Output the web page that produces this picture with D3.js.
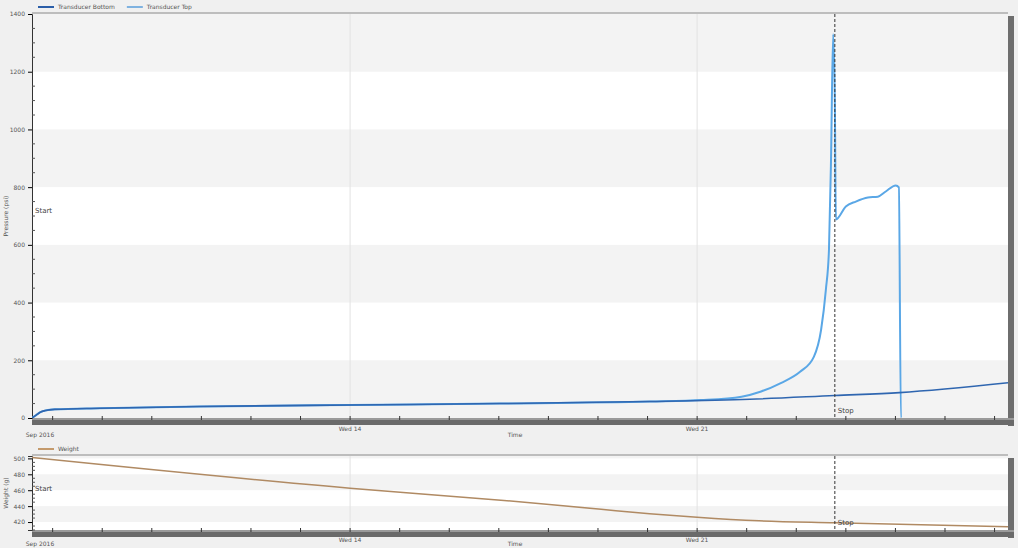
<!DOCTYPE html>
<html><head><meta charset="utf-8">
<script src="https://cdn.jsdelivr.net/npm/d3@7"></script>
<style>body{margin:0;background:#f0f0f0;font-family:"DejaVu Sans",sans-serif}</style>
</head><body><svg id="c" width="1018" height="548"></svg>
<script>
// ---- data ----
const bottomTimes = ["2016-09-07T14:00","2016-09-07T16:00","2016-09-07T18:00","2016-09-07T20:30","2016-09-08T01:00","2016-09-08T23:00","2016-09-10T23:00","2016-09-14T00:00","2016-09-17T00:30","2016-09-20T01:00","2016-09-22T01:30","2016-09-23T18:30","2016-09-25T02:00","2016-09-27T06:30"];
const bottomValues = [0,10,20,26,30,34,40,45,50,57,65,78,88,122];
const topTimes = ["2016-09-07T14:00","2016-09-07T16:00","2016-09-07T18:00","2016-09-07T20:30","2016-09-08T01:00","2016-09-08T23:00","2016-09-10T23:00","2016-09-14T00:00","2016-09-17T00:30","2016-09-20T01:00","2016-09-21T02:00","2016-09-21T21:30","2016-09-22T07:00","2016-09-22T16:30","2016-09-23T01:50","2016-09-23T08:30","2016-09-23T12:00","2016-09-23T14:20","2016-09-23T15:50","2016-09-23T16:50","2016-09-23T17:50","2016-09-23T18:40","2016-09-23T19:10","2016-09-24T00:00","2016-09-24T04:50","2016-09-24T10:40","2016-09-24T15:30","2016-09-24T19:20","2016-09-25T00:10","2016-09-25T01:40","2016-09-25T02:40","2016-09-25T02:50"];
const topValues = [0,10,20,26,30,34,40,45,50,57,62,74,92,121,160,212,305,445,584,900,1330,1100,688,733,750,764,767,785,806,799,0,0];
const weightTimes = ["2016-09-07T14:00","2016-09-14T00:00","2016-09-17T01:00","2016-09-19T01:30","2016-09-20T01:00","2016-09-21T00:00","2016-09-22T06:00","2016-09-23T18:30","2016-09-27T06:30"];
const weightValues = [501,462.5,447.5,436,430.5,426,421.5,419,414];
const pressureTicks = [0,200,400,600,800,1000,1200,1400];
const weightTicks = [420,440,460,480,500];
const seriesNames = ["Transducer Bottom","Transducer Top"];
const weightName = "Weight";
const startTime = "2016-09-07T14:00", stopTime = "2016-09-23T18:40";
const domainEnd = "2016-09-27T06:30";

const P = d3.timeParse("%Y-%m-%dT%H:%M");
const svg = d3.select("#c");
const L = 32, R = 1008;
const x = d3.scaleTime().domain([P(startTime), P(domainEnd)]).range([L, R]);

function panel(top, bottom, yDomain, ticks, minorStep, bandStep, grayEven, label, legend, series, startY, stopY, labY1, labY2){
  const y = d3.scaleLinear().domain(yDomain).range([bottom, top]);
  const g = svg.append("g");
  g.append("rect").attr("x",R).attr("y",top+2).attr("width",6).attr("height",bottom-top+6).attr("fill","#6e6e6e");
  g.append("rect").attr("x",L).attr("y",top).attr("width",R-L).attr("height",bottom-top).attr("fill","#ffffff");
  for(let v=Math.floor(yDomain[0]/bandStep)*bandStep; v<yDomain[1]; v+=bandStep){
    const idx = Math.round(v/bandStep);
    if((idx%2===0)===grayEven){
      const y0 = y(Math.max(v,yDomain[0])), y1 = y(Math.min(v+bandStep,yDomain[1]));
      g.append("rect").attr("x",L).attr("y",y1).attr("width",R-L).attr("height",y0-y1).attr("fill","#f3f3f3");
    }
  }
  const weeks = d3.timeWednesday.range(x.domain()[0], x.domain()[1]);
  g.selectAll(".vg").data(weeks).join("line").attr("x1",d=>x(d)).attr("x2",d=>x(d)).attr("y1",top).attr("y2",bottom).attr("stroke","#e2e2e2");
  g.append("line").attr("x1",L).attr("x2",R).attr("y1",top-1).attr("y2",top-1).attr("stroke","#bdbdbd").attr("stroke-width",2);
  g.append("rect").attr("x",L).attr("y",bottom).attr("width",R-L+6).attr("height",7).attr("fill","#6a6a6a");
  g.append("rect").attr("x",L).attr("y",bottom).attr("width",R-L+6).attr("height",2).attr("fill","#9a9a9a");
  const days = d3.timeDay.range(x.domain()[0], x.domain()[1]);
  g.selectAll(".xt").data(days).join("line").attr("x1",d=>x(d)).attr("x2",d=>x(d)).attr("y1",bottom-2).attr("y2",bottom+2).attr("stroke","#333");
  g.selectAll(".xl").data(weeks).join("text").attr("x",d=>x(d)).attr("y",labY1).attr("text-anchor","middle").attr("font-size",6).attr("fill","#555").text(d3.timeFormat("Wed %d"));
  g.append("text").attr("x",L+8).attr("y",labY2).attr("text-anchor","middle").attr("font-size",6).attr("fill","#555").text("Sep 2016");
  g.append("text").attr("x",515).attr("y",labY2).attr("text-anchor","middle").attr("font-size",6).attr("fill","#555").text("Time");
  const ya = g.append("g").attr("transform",`translate(${L},0)`).call(d3.axisLeft(y).tickValues(ticks).tickSize(4).tickFormat(d3.format("d")));
  ya.select(".domain").attr("stroke","#333");
  ya.selectAll("text").attr("font-size",6).attr("fill","#555").attr("font-family","DejaVu Sans");
  const minor = d3.range(Math.ceil(yDomain[0]/minorStep)*minorStep, yDomain[1]+1e-9, minorStep).filter(v=>!ticks.includes(v));
  g.selectAll(".ym").data(minor).join("line").attr("x1",L).attr("x2",L+3).attr("y1",d=>y(d)).attr("y2",d=>y(d)).attr("stroke","#555");
  g.append("text").attr("transform",`translate(8,${(top+bottom)/2}) rotate(-90)`).attr("text-anchor","middle").attr("font-size",6).attr("fill","#555").text(label);
  const clip = "clip"+top;
  svg.append("clipPath").attr("id",clip).append("rect").attr("x",L).attr("y",top-20).attr("width",R-L).attr("height",bottom-top+20);
  series.forEach(s=>{
    const data = s.t.map((t,i)=>({t:P(t),v:s.v[i]}));
    g.append("path").datum(data).attr("clip-path",`url(#${clip})`).attr("fill","none").attr("stroke",s.color).attr("stroke-width",s.w)
      .attr("d",d3.line().x(d=>x(d.t)).y(d=>y(d.v)).curve(d3.curveMonotoneX));
  });
  g.append("line").attr("x1",x(P(stopTime))).attr("x2",x(P(stopTime))).attr("y1",top).attr("y2",bottom).attr("stroke","#333").attr("stroke-dasharray","3,2");
  g.append("text").attr("x",L+3).attr("y",startY).attr("font-size",7).attr("fill","#444").text("Start");
  g.append("text").attr("x",x(P(stopTime))+3).attr("y",stopY).attr("font-size",7).attr("fill","#444").text("Stop");
  let lx = L+6;
  legend.forEach(l=>{
    g.append("line").attr("x1",lx).attr("x2",lx+16).attr("y1",top-7).attr("y2",top-7).attr("stroke",l.color).attr("stroke-width",2);
    const t = g.append("text").attr("x",lx+20).attr("y",top-5).attr("font-size",6).attr("fill","#555").text(l.name);
    lx += 20 + t.node().getComputedTextLength() + 12;
  });
}

panel(14, 418, [0,1400], pressureTicks, 50, 200, true, "Pressure (psi)",
  [{name:seriesNames[0],color:"#2b5ea8"},{name:seriesNames[1],color:"#7fb2e0"}],
  [{t:topTimes,v:topValues,color:"#5aa7e6",w:2},{t:bottomTimes,v:bottomValues,color:"#2f66b0",w:1.6}], 213, 413, 431, 437);
panel(456, 530, [410,503], weightTicks, 5, 20, false, "Weight (g)",
  [{name:weightName,color:"#c49a6c"}],
  [{t:weightTimes,v:weightValues,color:"#b08a63",w:1.5}], 491, 525, 542, 546);
</script></body></html>
